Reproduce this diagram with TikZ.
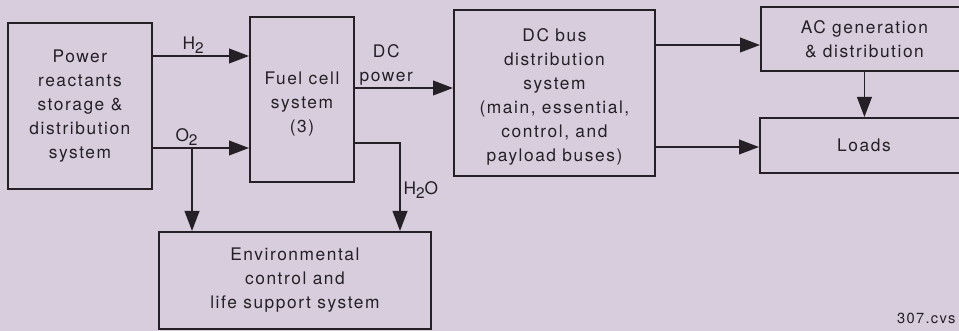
\documentclass[tikz,border=0pt]{standalone}
\usepackage{fontspec}
\setmainfont{TeX Gyre Heros}[LetterSpace=9]
\usepackage{tikz}
\usetikzlibrary{arrows.meta, positioning, calc}
\definecolor{PaperGray}{RGB}{215, 205, 221}
\definecolor{InkDark}{RGB}{36, 32, 38}
\newcommand{\chemsub}[1]{\raisebox{-3.5pt}{\fontsize{11.5}{12}\selectfont #1}}

\begin{document}
\begin{tikzpicture}[
    x=0.75pt, y=-0.75pt,
    every node/.style={font=\fontsize{13}{18}\selectfont, align=center, text=InkDark},
    block/.style={draw=InkDark, line width=1.4pt, inner sep=0pt, anchor=north west},
    flow/.style={draw=InkDark, line width=1.4pt, -{Triangle[length=15pt, width=11pt]}},
    tag/.style={inner sep=1pt}
]
\fill[PaperGray] (0,0) rectangle (959,331);
\useasboundingbox (0,0) rectangle (959,331);

% blocks
\node[block, minimum width=108pt, minimum height=124.5pt] (pwr) at (7,22)
    {Power\\reactants\\storage \&\\distribution\\system};
\node[block, minimum width=78pt, minimum height=123.75pt] (fc) at (249,16)
    {\rule{0pt}{17pt}Fuel cell\\system\\(3)};
\node[block, minimum width=150.75pt, minimum height=124.5pt] (dcbus) at (453,9)
    {\rule{0pt}{16pt}DC bus\\distribution\\system\\(main, essential,\\control, and\\payload buses)};
\node[block, minimum width=155.25pt, minimum height=48pt] (ac) at (760,6)
    {AC generation\\\& distribution};
\node[block, minimum width=156pt, minimum height=41.25pt] (loads) at (759,117)
    {Loads};
\node[block, minimum width=204pt, minimum height=72.75pt] (env) at (158,231)
    {Environmental\\control and\\life support system};

% turning points
\coordinate (h2y) at (0,56);
\coordinate (o2split) at (192,148);
\coordinate (dcy) at (0,88);
\coordinate (h2oturn) at (400,143);
\coordinate (acy) at (0,45);
\coordinate (ldy) at (0,147);

% connectors
\draw[flow] (pwr.east |- h2y) -- node[tag, above, pos=0.42] {H\chemsub{2}} (fc.west |- h2y);
\draw[flow] (pwr.east |- o2split) -- node[tag, above, pos=0.35] {O\chemsub{2}} (fc.west |- o2split);
\draw[flow] (o2split) -- (o2split |- env.north);
\draw[flow] (fc.east |- dcy) -- node[tag, above, pos=0.32] {DC\\power} (dcbus.west |- dcy);
\draw[flow] (fc.east |- h2oturn) -- (h2oturn) -- (h2oturn |- env.north);
\node[tag, anchor=west] (h2o) at (402,190) {H\chemsub{2}O};
\draw[flow] (dcbus.east |- acy) -- (ac.west |- acy);
\draw[flow] (dcbus.east |- ldy) -- (loads.west |- ldy);
\draw[flow] (ac.south) -- (ac.south |- loads.north);

\node[anchor=east, inner sep=1pt, font=\fontsize{11}{12}\selectfont] (figid) at (957,318) {307.cvs};
\end{tikzpicture}
\end{document}
